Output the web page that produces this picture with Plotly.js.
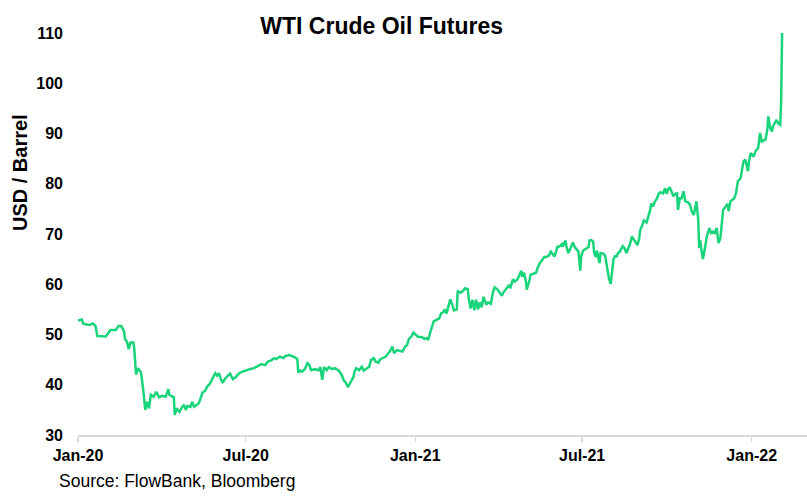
<!DOCTYPE html>
<html>
<head>
<meta charset="utf-8">
<script src="https://cdn.plot.ly/plotly-3.0.1.min.js"></script>
<style>html,body{margin:0;padding:0;background:#fff;}#chart{width:807px;height:498px;}</style>
</head>
<body>
<div id="chart"></div>
<script>
// Dates of each reading (as placed on the chart's date axis)
const dates = [
"2020-01-01","2020-01-05","2020-01-07","2020-01-11","2020-01-14","2020-01-17","2020-01-20","2020-01-22","2020-01-27","2020-01-31",
"2020-02-03","2020-02-05","2020-02-11","2020-02-14","2020-02-17","2020-02-20","2020-02-21","2020-02-23","2020-02-25","2020-02-27",
"2020-03-01","2020-03-02","2020-03-04","2020-03-06","2020-03-09","2020-03-10","2020-03-12","2020-03-14","2020-03-16","2020-03-18",
"2020-03-20","2020-03-23","2020-03-26","2020-03-29","2020-04-01","2020-04-05","2020-04-08","2020-04-09","2020-04-11","2020-04-14",
"2020-04-15","2020-04-17","2020-04-20","2020-04-22","2020-04-25","2020-04-27","2020-04-29","2020-05-02","2020-05-04","2020-05-06",
"2020-05-09","2020-05-11","2020-05-13","2020-05-15","2020-05-18","2020-05-20","2020-05-23","2020-05-25","2020-05-27","2020-05-29",
"2020-05-31","2020-06-02","2020-06-04","2020-06-06","2020-06-09","2020-06-12","2020-06-14","2020-06-17","2020-06-20","2020-06-24",
"2020-06-27","2020-07-01","2020-07-05","2020-07-10","2020-07-14","2020-07-18","2020-07-22","2020-07-25","2020-07-28","2020-08-01",
"2020-08-03","2020-08-07","2020-08-11","2020-08-13","2020-08-17","2020-08-20","2020-08-23","2020-08-26","2020-08-27","2020-08-29",
"2020-08-31","2020-09-03","2020-09-06","2020-09-08","2020-09-10","2020-09-14","2020-09-18","2020-09-20","2020-09-22","2020-09-24",
"2020-09-27","2020-09-29","2020-10-03","2020-10-06","2020-10-10","2020-10-13","2020-10-15","2020-10-18","2020-10-20","2020-10-23",
"2020-10-26","2020-10-27","2020-10-29","2020-11-01","2020-11-04","2020-11-06","2020-11-09","2020-11-12","2020-11-14","2020-11-17",
"2020-11-19","2020-11-22","2020-11-24","2020-11-27","2020-11-30","2020-12-03","2020-12-05","2020-12-07","2020-12-09","2020-12-12",
"2020-12-15","2020-12-18","2020-12-21","2020-12-23","2020-12-25","2020-12-28","2020-12-30","2021-01-02","2021-01-04","2021-01-08",
"2021-01-11","2021-01-13","2021-01-15","2021-01-17","2021-01-19","2021-01-21","2021-01-24","2021-01-27","2021-01-29","2021-01-31",
"2021-02-02","2021-02-04","2021-02-06","2021-02-08","2021-02-10","2021-02-12","2021-02-15","2021-02-16","2021-02-19","2021-02-22",
"2021-02-24","2021-02-27","2021-02-28","2021-03-02","2021-03-04","2021-03-06","2021-03-08","2021-03-10","2021-03-12","2021-03-14",
"2021-03-16","2021-03-19","2021-03-21","2021-03-24","2021-03-26","2021-03-28","2021-03-31","2021-04-03","2021-04-05","2021-04-07",
"2021-04-11","2021-04-13","2021-04-14","2021-04-17","2021-04-19","2021-04-22","2021-04-24","2021-04-26","2021-04-27","2021-04-29",
"2021-05-01","2021-05-02","2021-05-05","2021-05-06","2021-05-09","2021-05-12","2021-05-14","2021-05-16","2021-05-19","2021-05-21",
"2021-05-23","2021-05-26","2021-05-28","2021-05-30","2021-06-01","2021-06-03","2021-06-04","2021-06-07","2021-06-09","2021-06-10",
"2021-06-13","2021-06-14","2021-06-16","2021-06-19","2021-06-21","2021-06-23","2021-06-25","2021-06-27","2021-06-29","2021-06-30",
"2021-07-02","2021-07-05","2021-07-08","2021-07-09","2021-07-11","2021-07-13","2021-07-14","2021-07-16","2021-07-17","2021-07-19",
"2021-07-20","2021-07-21","2021-07-24","2021-07-26","2021-07-28","2021-07-30","2021-08-01","2021-08-03","2021-08-04","2021-08-06",
"2021-08-07","2021-08-09","2021-08-11","2021-08-14","2021-08-16","2021-08-18","2021-08-20","2021-08-22","2021-08-24","2021-08-27",
"2021-08-30","2021-09-01","2021-09-02","2021-09-04","2021-09-06","2021-09-09","2021-09-11","2021-09-13","2021-09-14","2021-09-16",
"2021-09-18","2021-09-20","2021-09-22","2021-09-24","2021-09-27","2021-09-29","2021-10-01","2021-10-02","2021-10-04","2021-10-06",
"2021-10-08","2021-10-10","2021-10-12","2021-10-13","2021-10-15","2021-10-17","2021-10-19","2021-10-21","2021-10-24","2021-10-26",
"2021-10-28","2021-10-30","2021-10-31","2021-11-02","2021-11-04","2021-11-05","2021-11-06","2021-11-08","2021-11-09","2021-11-11",
"2021-11-13","2021-11-16","2021-11-18","2021-11-20","2021-11-22","2021-11-24","2021-11-26","2021-11-28","2021-11-29","2021-12-01",
"2021-12-04","2021-12-06","2021-12-07","2021-12-09","2021-12-11","2021-12-13","2021-12-15","2021-12-16","2021-12-17","2021-12-20",
"2021-12-21","2021-12-23","2021-12-25","2021-12-28","2021-12-29","2021-12-31","2022-01-03","2022-01-05","2022-01-08","2022-01-09",
"2022-01-10","2022-01-12","2022-01-14","2022-01-16","2022-01-18","2022-01-19","2022-01-21","2022-01-23","2022-01-24","2022-01-26",
"2022-01-28","2022-01-30","2022-02-01","2022-02-02","2022-02-03"
];
// WTI futures price, USD per barrel
const prices = [
52.8,53.0,52.1,52.0,51.9,52.2,51.7,49.7,49.7,49.6,
50.3,50.9,50.9,51.7,51.7,50.6,49.1,48.6,47.1,48.4,
48.4,47.3,42.0,43.3,42.6,41.6,38.6,35.0,36.6,35.3,
38.0,37.6,38.6,37.5,37.8,37.6,39.1,38.0,37.8,37.5,
34.0,35.3,34.6,35.3,36.0,35.0,35.8,35.6,36.6,35.6,
36.0,36.3,37.3,38.4,38.8,39.6,40.2,41.0,41.5,42.3,
41.8,42.3,41.1,40.4,41.3,41.8,42.2,41.1,41.5,42.3,
42.6,42.8,43.1,43.3,43.7,44.1,43.9,44.6,44.8,45.3,
45.1,45.6,45.3,45.7,45.9,45.7,45.5,45.1,42.4,42.8,
42.6,43.1,44.3,43.9,42.9,43.1,42.9,43.5,41.0,43.5,
42.9,43.5,43.1,43.3,42.8,42.0,41.0,40.3,39.5,40.6,
41.6,42.6,43.3,42.9,43.6,42.8,43.3,43.6,44.9,45.3,
44.6,44.4,45.1,45.3,45.6,46.3,46.8,47.6,46.3,46.9,
46.8,46.6,47.6,47.9,49.1,49.7,50.4,49.9,49.5,49.5,
49.1,49.3,48.9,50.3,51.5,52.6,52.9,53.2,54.2,54.4,
55.0,54.2,55.7,57.0,55.9,54.8,55.0,58.7,58.3,58.7,
59.2,59.0,57.0,55.2,56.9,54.8,56.9,55.0,56.4,55.4,
57.5,55.9,56.4,56.1,58.2,59.4,59.0,58.2,57.7,58.5,
59.5,59.9,59.2,61.0,60.5,61.0,61.9,62.7,61.5,62.3,
60.5,58.9,60.9,61.9,62.1,62.3,63.4,64.2,64.9,65.4,
65.4,65.7,66.5,65.9,65.5,66.7,67.4,67.6,68.0,67.5,
68.7,67.5,66.2,67.4,68.3,67.4,67.0,66.5,62.7,65.5,
66.7,67.0,67.4,68.7,68.8,68.5,66.3,65.4,66.7,64.9,
64.2,66.2,66.1,65.7,63.5,61.2,60.1,62.9,64.9,65.7,
65.4,66.2,66.5,67.6,67.2,66.2,67.2,68.0,69.5,68.7,
67.8,69.2,70.8,71.6,72.7,72.3,73.5,74.9,76.1,75.5,
76.5,77.0,78.0,78.3,78.1,79.1,78.0,78.8,79.3,78.3,
77.5,78.0,78.1,74.8,77.1,77.1,78.5,76.5,76.3,75.8,
74.5,73.8,74.5,76.5,72.8,67.2,68.8,66.2,65.0,66.9,
69.2,71.2,70.2,70.5,70.2,71.2,68.2,69.2,70.8,74.8,
75.5,76.0,74.5,76.5,76.8,77.1,78.1,79.5,80.5,81.1,
82.5,84.4,84.8,82.5,84.4,86.1,85.4,86.4,87.1,88.4,
90.1,88.4,88.6,88.8,90.8,93.4,91.1,90.4,91.4,92.2,
92.7,91.9,91.7,96.7,110.3
];
const xTickVals = ["2020-01-01","2020-07-01","2021-01-01","2021-07-01","2022-01-01"];
const xTickText = ["Jan-20","Jul-20","Jan-21","Jul-21","Jan-22"];
const yTickVals = [30,40,50,60,70,80,90,100,110];

const font = "Arial, 'Liberation Sans', sans-serif";

Plotly.newPlot('chart', [{
  x: dates, y: prices, type: 'scatter', mode: 'lines',
  line: {color: '#19d47b', width: 2.5}, hoverinfo: 'skip'
}], {
  width: 807, height: 498,
  margin: {l: 78, r: 0, t: 33, b: 63},
  paper_bgcolor: '#fff', plot_bgcolor: '#fff',
  showlegend: false,
  font: {family: font, color: '#000'},
  title: {text: '<b>WTI Crude Oil Futures</b>', font: {family: font, size: 23, color: '#000'},
          x: 0.473, xref: 'container', xanchor: 'center', y: 0.948, yref: 'container', yanchor: 'middle'},
  xaxis: {
    type: 'date', range: ['2020-01-01', '2022-03-02'],
    tickvals: xTickVals, ticktext: xTickText,
    tickfont: {family: font, size: 16, color: '#000', weight: 'bold'},
    showgrid: false, zeroline: false,
    showline: true, linecolor: '#d9d9d9', linewidth: 1.5,
    ticks: 'outside', ticklen: 5, tickcolor: '#d9d9d9', tickwidth: 1.5
  },
  yaxis: {
    range: [30, 110], tickvals: yTickVals,
    tickfont: {family: font, size: 16, color: '#000', weight: 'bold'},
    showgrid: false, zeroline: false, showline: false,
    ticks: '', ticklabelstandoff: 14
  },
  annotations: [
    {text: '<b>USD / Barrel</b>', textangle: -90, xref: 'paper', yref: 'paper',
     x: -0.0796, y: 0.654, xanchor: 'center', yanchor: 'middle', showarrow: false,
     font: {family: font, size: 20, color: '#000'}},
    {text: 'Source: FlowBank, Bloomberg', xref: 'paper', yref: 'paper',
     x: (56.7 - 78) / 729, y: -0.114, xanchor: 'left', yanchor: 'middle', showarrow: false,
     font: {family: font, size: 17.5, color: '#000'}}
  ]
}, {staticPlot: true, displayModeBar: false});
</script>
</body>
</html>
